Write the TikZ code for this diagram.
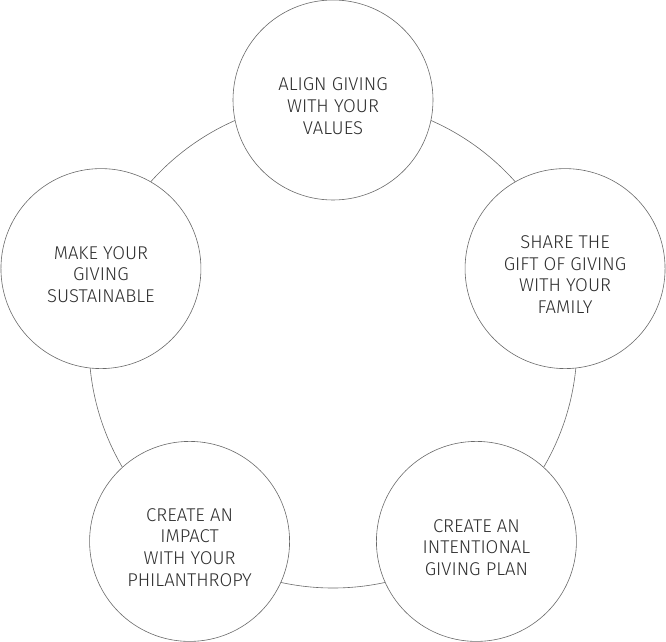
\documentclass[tikz,border=0pt]{standalone}
\usepackage{fontspec}
\setmainfont{Fira Sans Light}
\definecolor{Ring}{HTML}{6A6A6A}
\definecolor{Ink}{HTML}{2E2E2E}
\tikzset{
  stepnode/.style={circle,draw=Ring,fill=white,line width=0.6pt,
    minimum size=200pt,inner sep=0pt,align=center,text=Ink,
    font=\fontsize{18.5}{21.7}\selectfont}
}
\newcommand{\lift}{\rule{0pt}{25pt}}   % pushes the text a little below centre

\begin{document}
\begin{tikzpicture}[x=1pt,y=1pt,line join=round,line cap=round]
\def\R{244}          % radius of the ring through the step centres
\useasboundingbox (0,0) rectangle (666,641);
\coordinate (hub) at (333,297);

% ---- the ring behind the steps ----
\draw[Ring,line width=0.6pt] (hub) circle[radius=\R];

% ---- the five steps, round the ring ----
\foreach \nm/\a/\txt in {%
    align/90/{ALIGN GIVING\\WITH YOUR\\VALUES},
    share/18/{SHARE THE\\GIFT OF GIVING\\WITH YOUR\\FAMILY},
    plan/-54/{CREATE AN\\INTENTIONAL\\GIVING PLAN},
    impact/-126/{CREATE AN\\IMPACT\\WITH YOUR\\PHILANTHROPY},
    sustain/162/{MAKE YOUR\\GIVING\\SUSTAINABLE}}{
  \node[stepnode] (\nm) at ([shift={(\a:\R)}]hub) {\lift\txt};}
\end{tikzpicture}
\end{document}
